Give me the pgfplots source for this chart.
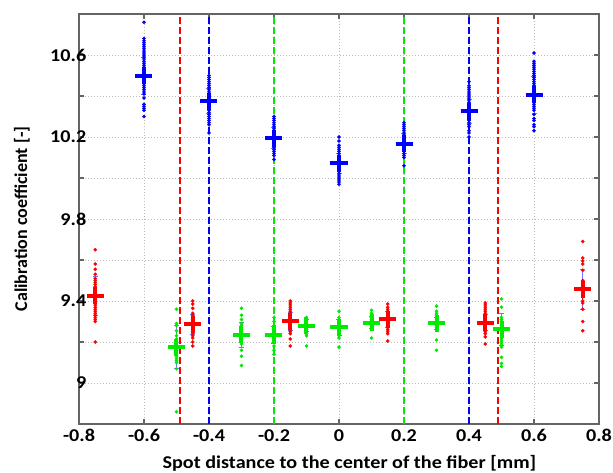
\documentclass[border=0pt]{standalone}
\usepackage{pgfplots}
\pgfplotsset{compat=1.18}
\usepackage{fontspec}
\setmainfont{Carlito}[BoldFont={Carlito Bold}]
\definecolor{cblue}{RGB}{0,0,255}
\definecolor{cred}{RGB}{255,0,0}
\definecolor{cgreen}{RGB}{0,235,0}
\definecolor{axgray}{RGB}{100,100,100}
\begin{document}
\begin{tikzpicture}
\useasboundingbox (-79pt,-49pt) rectangle (534pt,424pt);
\begin{axis}[
  scale only axis,
  width=520pt, height=410pt,
  xmin=-0.8, xmax=0.8, ymin=8.8, ymax=10.8,
  xtick={-0.8,-0.6,-0.4,-0.2,0,0.2,0.4,0.6,0.8},
  xticklabels={-0.8,-0.6,-0.4,-0.2,0,0.2,0.4,0.6,0.8},
  ytick={9,9.2,9.4,9.6,9.8,10,10.2,10.4,10.6},
  yticklabels={9,,9.4,,9.8,,10.2,,10.6},
  tick label style={font=\fontsize{18}{22}\selectfont\bfseries, text=black, xscale=1.12},
  /pgf/number format/assume math mode=true,
  xticklabel style={yshift=-2pt},
  yticklabel style={xshift=10pt},
  grid=major,
  major grid style={gray!55, line width=0.7pt, dash pattern=on 1pt off 2pt},
  axis line style={axgray, line width=1.2pt},
  major tick style={axgray, line width=1.2pt},
  major tick length=5pt,
  xlabel={Spot distance to the center of the fiber [mm]},
  ylabel={Calibration coefficient [-]},
  label style={font=\fontsize{18}{22}\selectfont\bfseries},
  xlabel style={at={(rel axis cs:0.52,0)}, anchor=center, yshift=-39pt, xscale=1.12},
  ylabel style={at={([xshift=-57pt]rel axis cs:0,0.5)}, anchor=center},
  clip=false,
]
% vertical dashed lines
\addplot[draw=cred, line width=1.8pt, dash pattern=on 7pt off 3pt] coordinates {(-0.49,8.8) (-0.49,10.8)};
\addplot[draw=cred, line width=1.8pt, dash pattern=on 7pt off 3pt] coordinates {(0.49,8.8) (0.49,10.8)};
\addplot[draw=cblue, line width=1.8pt, dash pattern=on 7pt off 3pt] coordinates {(-0.4,8.8) (-0.4,10.8)};
\addplot[draw=cblue, line width=1.8pt, dash pattern=on 7pt off 3pt] coordinates {(0.4,8.8) (0.4,10.8)};
\addplot[draw=cgreen, line width=1.8pt, dash pattern=on 7pt off 3pt] coordinates {(-0.2,8.8) (-0.2,10.8)};
\addplot[draw=cgreen, line width=1.8pt, dash pattern=on 7pt off 3pt] coordinates {(0.2,8.8) (0.2,10.8)};

% individual measurements, blue
\addplot[only marks, mark=*, mark size=1.6pt, cblue] table[row sep=\\] {
x y\\
-0.6 10.76\\ -0.6 10.68\\ -0.6 10.67\\ -0.6 10.66\\ -0.6 10.65\\ -0.6 10.64\\ -0.6 10.63\\ -0.6 10.62\\
-0.6 10.61\\ -0.6 10.60\\ -0.6 10.59\\ -0.6 10.58\\ -0.6 10.57\\ -0.6 10.56\\ -0.6 10.55\\ -0.6 10.54\\
-0.6 10.53\\ -0.6 10.52\\ -0.6 10.51\\ -0.6 10.50\\ -0.6 10.49\\ -0.6 10.48\\ -0.6 10.47\\ -0.6 10.46\\
-0.6 10.45\\ -0.6 10.44\\ -0.6 10.43\\ -0.6 10.42\\ -0.6 10.41\\ -0.6 10.39\\ -0.6 10.36\\ -0.6 10.35\\
-0.6 10.34\\ -0.6 10.33\\ -0.6 10.30\\
-0.4 10.50\\ -0.4 10.49\\ -0.4 10.48\\ -0.4 10.47\\ -0.4 10.46\\ -0.4 10.45\\ -0.4 10.44\\ -0.4 10.43\\
-0.4 10.42\\ -0.4 10.41\\ -0.4 10.40\\ -0.4 10.39\\ -0.4 10.38\\ -0.4 10.37\\ -0.4 10.36\\ -0.4 10.35\\
-0.4 10.34\\ -0.4 10.33\\ -0.4 10.32\\ -0.4 10.31\\ -0.4 10.30\\ -0.4 10.29\\ -0.4 10.28\\ -0.4 10.27\\
-0.4 10.26\\ -0.4 10.22\\
-0.2 10.30\\ -0.2 10.29\\ -0.2 10.28\\ -0.2 10.27\\ -0.2 10.26\\ -0.2 10.25\\ -0.2 10.24\\ -0.2 10.23\\
-0.2 10.22\\ -0.2 10.21\\ -0.2 10.20\\ -0.2 10.19\\ -0.2 10.18\\ -0.2 10.17\\ -0.2 10.16\\ -0.2 10.15\\
-0.2 10.14\\ -0.2 10.13\\ -0.2 10.12\\ -0.2 10.11\\ -0.2 10.09\\
0 10.20\\ 0 10.18\\ 0 10.16\\ 0 10.15\\ 0 10.14\\ 0 10.13\\ 0 10.12\\ 0 10.11\\ 0 10.10\\ 0 10.09\\
0 10.08\\ 0 10.07\\ 0 10.06\\ 0 10.05\\ 0 10.04\\ 0 10.03\\ 0 10.02\\ 0 10.01\\ 0 10.00\\ 0 9.99\\
0 9.98\\ 0 9.97\\
0.2 10.27\\ 0.2 10.26\\ 0.2 10.25\\ 0.2 10.24\\ 0.2 10.23\\ 0.2 10.22\\ 0.2 10.21\\ 0.2 10.20\\
0.2 10.19\\ 0.2 10.18\\ 0.2 10.17\\ 0.2 10.16\\ 0.2 10.15\\ 0.2 10.14\\ 0.2 10.13\\ 0.2 10.12\\
0.2 10.11\\ 0.2 10.10\\ 0.2 10.06\\
0.4 10.47\\ 0.4 10.45\\ 0.4 10.44\\ 0.4 10.43\\ 0.4 10.42\\ 0.4 10.41\\ 0.4 10.40\\ 0.4 10.39\\
0.4 10.38\\ 0.4 10.37\\ 0.4 10.36\\ 0.4 10.35\\ 0.4 10.34\\ 0.4 10.33\\ 0.4 10.32\\ 0.4 10.31\\
0.4 10.30\\ 0.4 10.29\\ 0.4 10.28\\ 0.4 10.27\\ 0.4 10.26\\ 0.4 10.25\\ 0.4 10.23\\ 0.4 10.22\\
0.4 10.20\\
0.6 10.61\\ 0.6 10.57\\ 0.6 10.56\\ 0.6 10.55\\ 0.6 10.54\\ 0.6 10.53\\ 0.6 10.52\\ 0.6 10.51\\
0.6 10.50\\ 0.6 10.49\\ 0.6 10.48\\ 0.6 10.47\\ 0.6 10.46\\ 0.6 10.45\\ 0.6 10.44\\ 0.6 10.43\\
0.6 10.42\\ 0.6 10.41\\ 0.6 10.40\\ 0.6 10.39\\ 0.6 10.38\\ 0.6 10.37\\ 0.6 10.36\\ 0.6 10.35\\
0.6 10.34\\ 0.6 10.33\\ 0.6 10.31\\ 0.6 10.29\\ 0.6 10.28\\ 0.6 10.26\\ 0.6 10.25\\ 0.6 10.23\\
};

% individual measurements, red
\addplot[only marks, mark=*, mark size=1.6pt, cred] table[row sep=\\] {
x y\\
-0.75 9.65\\ -0.75 9.58\\ -0.75 9.555\\ -0.75 9.53\\ -0.75 9.51\\ -0.75 9.50\\ -0.75 9.49\\ -0.75 9.48\\
-0.75 9.47\\ -0.75 9.46\\ -0.75 9.45\\ -0.75 9.44\\ -0.75 9.43\\ -0.75 9.42\\ -0.75 9.41\\ -0.75 9.40\\
-0.75 9.39\\ -0.75 9.38\\ -0.75 9.37\\ -0.75 9.36\\ -0.75 9.35\\ -0.75 9.34\\ -0.75 9.33\\ -0.75 9.32\\
-0.75 9.31\\ -0.75 9.30\\ -0.75 9.20\\
-0.45 9.40\\ -0.45 9.385\\ -0.45 9.365\\ -0.45 9.34\\ -0.45 9.33\\ -0.45 9.32\\ -0.45 9.31\\ -0.45 9.30\\
-0.45 9.29\\ -0.45 9.28\\ -0.45 9.27\\ -0.45 9.26\\ -0.45 9.25\\ -0.45 9.24\\ -0.45 9.23\\ -0.45 9.22\\
-0.45 9.20\\ -0.45 9.18\\
-0.15 9.40\\ -0.15 9.39\\ -0.15 9.38\\ -0.15 9.37\\ -0.15 9.36\\ -0.15 9.35\\ -0.15 9.34\\ -0.15 9.33\\
-0.15 9.32\\ -0.15 9.31\\ -0.15 9.30\\ -0.15 9.29\\ -0.15 9.28\\ -0.15 9.27\\ -0.15 9.26\\ -0.15 9.25\\
-0.15 9.24\\ -0.15 9.215\\ -0.15 9.18\\
0.15 9.385\\ 0.15 9.37\\ 0.15 9.36\\ 0.15 9.35\\ 0.15 9.34\\ 0.15 9.33\\ 0.15 9.32\\ 0.15 9.31\\
0.15 9.30\\ 0.15 9.29\\ 0.15 9.28\\ 0.15 9.27\\ 0.15 9.26\\ 0.15 9.25\\ 0.15 9.24\\ 0.15 9.205\\
0.45 9.39\\ 0.45 9.38\\ 0.45 9.37\\ 0.45 9.36\\ 0.45 9.35\\ 0.45 9.34\\ 0.45 9.33\\ 0.45 9.32\\
0.45 9.31\\ 0.45 9.30\\ 0.45 9.29\\ 0.45 9.28\\ 0.45 9.27\\ 0.45 9.26\\ 0.45 9.25\\ 0.45 9.24\\
0.45 9.225\\ 0.45 9.19\\
0.75 9.69\\ 0.75 9.61\\ 0.75 9.595\\ 0.75 9.58\\ 0.75 9.55\\ 0.75 9.50\\ 0.75 9.49\\ 0.75 9.48\\
0.75 9.47\\ 0.75 9.46\\ 0.75 9.45\\ 0.75 9.44\\ 0.75 9.43\\ 0.75 9.42\\ 0.75 9.40\\ 0.75 9.39\\
0.75 9.36\\ 0.75 9.30\\ 0.75 9.255\\
};

% individual measurements, green
\addplot[only marks, mark=*, mark size=1.6pt, cgreen] table[row sep=\\] {
x y\\
-0.5 9.36\\ -0.5 9.29\\ -0.5 9.28\\ -0.5 9.255\\ -0.5 9.23\\ -0.5 9.215\\ -0.5 9.20\\ -0.5 9.19\\
-0.5 9.18\\ -0.5 9.17\\ -0.5 9.16\\ -0.5 9.15\\ -0.5 9.14\\ -0.5 9.13\\ -0.5 9.12\\ -0.5 9.11\\
-0.5 9.10\\ -0.5 9.07\\ -0.5 8.86\\
-0.3 9.365\\ -0.3 9.33\\ -0.3 9.31\\ -0.3 9.29\\ -0.3 9.28\\ -0.3 9.27\\ -0.3 9.26\\ -0.3 9.25\\
-0.3 9.24\\ -0.3 9.23\\ -0.3 9.22\\ -0.3 9.21\\ -0.3 9.20\\ -0.3 9.19\\ -0.3 9.16\\ -0.3 9.13\\
-0.3 9.085\\
-0.2 9.32\\ -0.2 9.30\\ -0.2 9.28\\ -0.2 9.27\\ -0.2 9.26\\ -0.2 9.25\\ -0.2 9.24\\ -0.2 9.23\\
-0.2 9.22\\ -0.2 9.21\\ -0.2 9.20\\ -0.2 9.18\\ -0.2 9.16\\ -0.2 9.14\\
-0.1 9.32\\ -0.1 9.31\\ -0.1 9.30\\ -0.1 9.29\\ -0.1 9.28\\ -0.1 9.27\\ -0.1 9.26\\ -0.1 9.25\\
-0.1 9.24\\ -0.1 9.23\\ -0.1 9.18\\
0 9.35\\ 0 9.32\\ 0 9.31\\ 0 9.30\\ 0 9.29\\ 0 9.28\\ 0 9.27\\ 0 9.26\\ 0 9.25\\ 0 9.24\\
0 9.23\\ 0 9.22\\ 0 9.175\\
0.1 9.355\\ 0.1 9.34\\ 0.1 9.33\\ 0.1 9.32\\ 0.1 9.31\\ 0.1 9.30\\ 0.1 9.29\\ 0.1 9.28\\
0.1 9.27\\ 0.1 9.22\\
0.3 9.375\\ 0.3 9.35\\ 0.3 9.34\\ 0.3 9.33\\ 0.3 9.32\\ 0.3 9.31\\ 0.3 9.30\\ 0.3 9.29\\
0.3 9.28\\ 0.3 9.27\\ 0.3 9.26\\ 0.3 9.21\\ 0.3 9.16\\
0.5 9.41\\ 0.5 9.37\\ 0.5 9.32\\ 0.5 9.31\\ 0.5 9.30\\ 0.5 9.29\\ 0.5 9.28\\ 0.5 9.27\\
0.5 9.26\\ 0.5 9.25\\ 0.5 9.24\\ 0.5 9.23\\ 0.5 9.22\\ 0.5 9.21\\ 0.5 9.20\\ 0.5 9.19\\
0.5 9.175\\ 0.5 9.125\\ 0.5 9.095\\ 0.5 9.08\\
};

% standard deviations
\addplot[only marks, mark=none, error bars/.cd, y dir=both, y explicit,
  error bar style={blue!55, line width=0.7pt},
  error mark options={blue!55, line width=0.7pt, mark size=2.5pt, rotate=90}]
  coordinates {
  (-0.6,10.498) +- (0,0.09) (-0.4,10.375) +- (0,0.06) (-0.2,10.195) +- (0,0.05)
  (0,10.071) +- (0,0.05) (0.2,10.168) +- (0,0.05) (0.4,10.325) +- (0,0.06) (0.6,10.406) +- (0,0.09)
  (-0.75,9.426) +- (0,0.095) (-0.45,9.286) +- (0,0.05) (-0.15,9.30) +- (0,0.045)
  (0.15,9.311) +- (0,0.04) (0.45,9.295) +- (0,0.04) (0.75,9.458) +- (0,0.097)
  (-0.5,9.175) +- (0,0.105) (-0.3,9.236) +- (0,0.06) (-0.2,9.235) +- (0,0.04)
  (-0.1,9.28) +- (0,0.03) (0,9.272) +- (0,0.04) (0.1,9.295) +- (0,0.03)
  (0.3,9.291) +- (0,0.03) (0.5,9.262) +- (0,0.08)
};

% means
\addplot[only marks, mark=+, mark size=8.5pt, cblue, mark options={line width=4pt}] coordinates {
  (-0.6,10.498) (-0.4,10.375) (-0.2,10.195) (0,10.071) (0.2,10.168) (0.4,10.325) (0.6,10.406)
};
\addplot[only marks, mark=+, mark size=8.5pt, cred, mark options={line width=4pt}] coordinates {
  (-0.75,9.426) (-0.45,9.286) (-0.15,9.30) (0.15,9.311) (0.45,9.295) (0.75,9.458)
};
\addplot[only marks, mark=+, mark size=8.5pt, cgreen, mark options={line width=4pt}] coordinates {
  (-0.5,9.175) (-0.3,9.236) (-0.2,9.235) (-0.1,9.28) (0,9.272) (0.1,9.295) (0.3,9.291) (0.5,9.262)
};
\end{axis}
\end{tikzpicture}
\end{document}
